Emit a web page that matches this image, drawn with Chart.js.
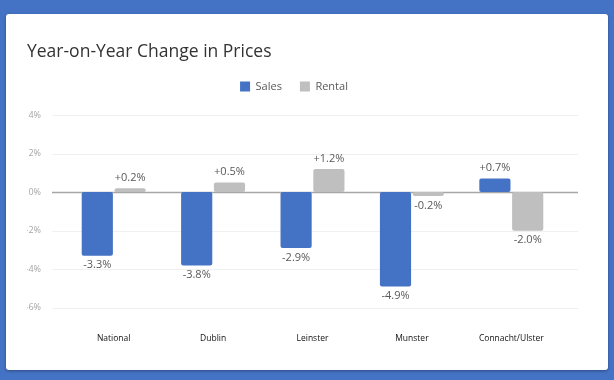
<!DOCTYPE html>
<html>
<head>
<meta charset="utf-8">
<script src="https://cdn.jsdelivr.net/npm/chart.js@4.4.0/dist/chart.umd.min.js"></script>
<style>
  html, body { margin: 0; padding: 0; }
  body { width: 614px; height: 380px; background: #4472c4; position: relative; overflow: hidden; }
  .card {
    position: absolute; left: 6px; top: 14px; width: 602px; height: 356px;
    background: #fff; border-radius: 3px; box-shadow: 0 1px 3px rgba(0,0,0,0.35);
  }
  canvas { display: block; }
</style>
</head>
<body>
<div class="card"><canvas id="pricesChart" width="602" height="356"></canvas></div>
<script>
// datos del gráfico
const regions = ['National', 'Dublin', 'Leinster', 'Munster', 'Connacht/Ulster'];
const salesChange = [-3.3, -3.8, -2.9, -4.9, 0.7];
const rentalChange = [0.2, 0.5, 1.2, -0.2, -2.0];
const yTicks = [4, 2, 0, -2, -4, -6];

const FONT = '"Open Sans", "Noto Sans", sans-serif';

// espacio extra debajo de la leyenda
const legendGap = {
  id: 'legendGap',
  beforeInit(chart) {
    const fit = chart.legend.fit;
    chart.legend.fit = function () {
      fit.bind(chart.legend)();
      this.height += 13;
    };
  }
};

// etiquetas de valor sobre / debajo de cada barra
const valueLabels = {
  id: 'valueLabels',
  afterDatasetsDraw(chart) {
    const ctx = chart.ctx;
    ctx.save();
    ctx.font = '11px ' + FONT;
    ctx.fillStyle = '#595959';
    ctx.textAlign = 'center';
    chart.data.datasets.forEach((ds, i) => {
      chart.getDatasetMeta(i).data.forEach((bar, j) => {
        const v = ds.data[j];
        const txt = (v > 0 ? '+' : '') + v.toFixed(1) + '%';
        if (v >= 0) {
          ctx.textBaseline = 'bottom';
          ctx.fillText(txt, bar.x, bar.y - 5);
        } else {
          ctx.textBaseline = 'top';
          ctx.fillText(txt, bar.x, bar.y + 4);
        }
      });
    });
    ctx.restore();
  }
};

// líneas de grilla más anchas que el área de barras
const wideGrid = {
  id: 'wideGrid',
  beforeDatasetsDraw(chart) {
    const ctx = chart.ctx;
    const y = chart.scales.y;
    const left = chart.chartArea.left - 12;
    const right = chart.chartArea.right + 17;
    ctx.save();
    yTicks.forEach(t => {
      const py = Math.round(y.getPixelForValue(t)) + 0.5;
      ctx.strokeStyle = t === 0 ? '#a6a6a6' : '#f0f0f0';
      ctx.lineWidth = t === 0 ? 1.5 : 1;
      ctx.beginPath();
      ctx.moveTo(left, py);
      ctx.lineTo(right, py);
      ctx.stroke();
    });
    ctx.restore();
  }
};

new Chart(document.getElementById('pricesChart'), {
  type: 'bar',
  data: {
    labels: regions,
    datasets: [
      {
        label: 'Sales',
        data: salesChange,
        backgroundColor: '#4472c4',
        borderRadius: 2,
        borderSkipped: false,
        categoryPercentage: 0.66,
        barPercentage: 0.95
      },
      {
        label: 'Rental',
        data: rentalChange,
        backgroundColor: '#bfbfbf',
        borderRadius: 2,
        borderSkipped: false,
        categoryPercentage: 0.66,
        barPercentage: 0.95
      }
    ]
  },
  options: {
    responsive: false,
    animation: false,
    layout: { padding: { left: 21, right: 47, top: 0, bottom: 0 } },
    plugins: {
      title: {
        display: true,
        text: 'Year-on-Year Change in Prices',
        align: 'start',
        color: '#333333',
        font: { family: FONT, size: 17.5, weight: 'normal' },
        padding: { top: 28, bottom: 0 },
        fullSize: true
      },
      legend: {
        display: true,
        labels: {
          color: '#595959',
          font: { family: FONT, size: 11 },
          boxWidth: 10,
          boxHeight: 10,
          padding: 18
        }
      },
      tooltip: { enabled: false }
    },
    scales: {
      y: {
        min: -6,
        max: 4,
        grid: { display: false, drawTicks: false },
        border: { display: false },
        afterFit(scale) { scale.width = 37; },
        ticks: {
          stepSize: 2,
          padding: 23,
          color: '#a6a6a6',
          font: { family: FONT, size: 9 },
          callback: v => v + '%'
        }
      },
      x: {
        grid: { display: false, drawTicks: false },
        border: { display: false },
        ticks: {
          padding: 26,
          color: '#111111',
          font: { family: FONT, size: 8.5 }
        }
      }
    }
  },
  plugins: [legendGap, wideGrid, valueLabels]
});
</script>
</body>
</html>
